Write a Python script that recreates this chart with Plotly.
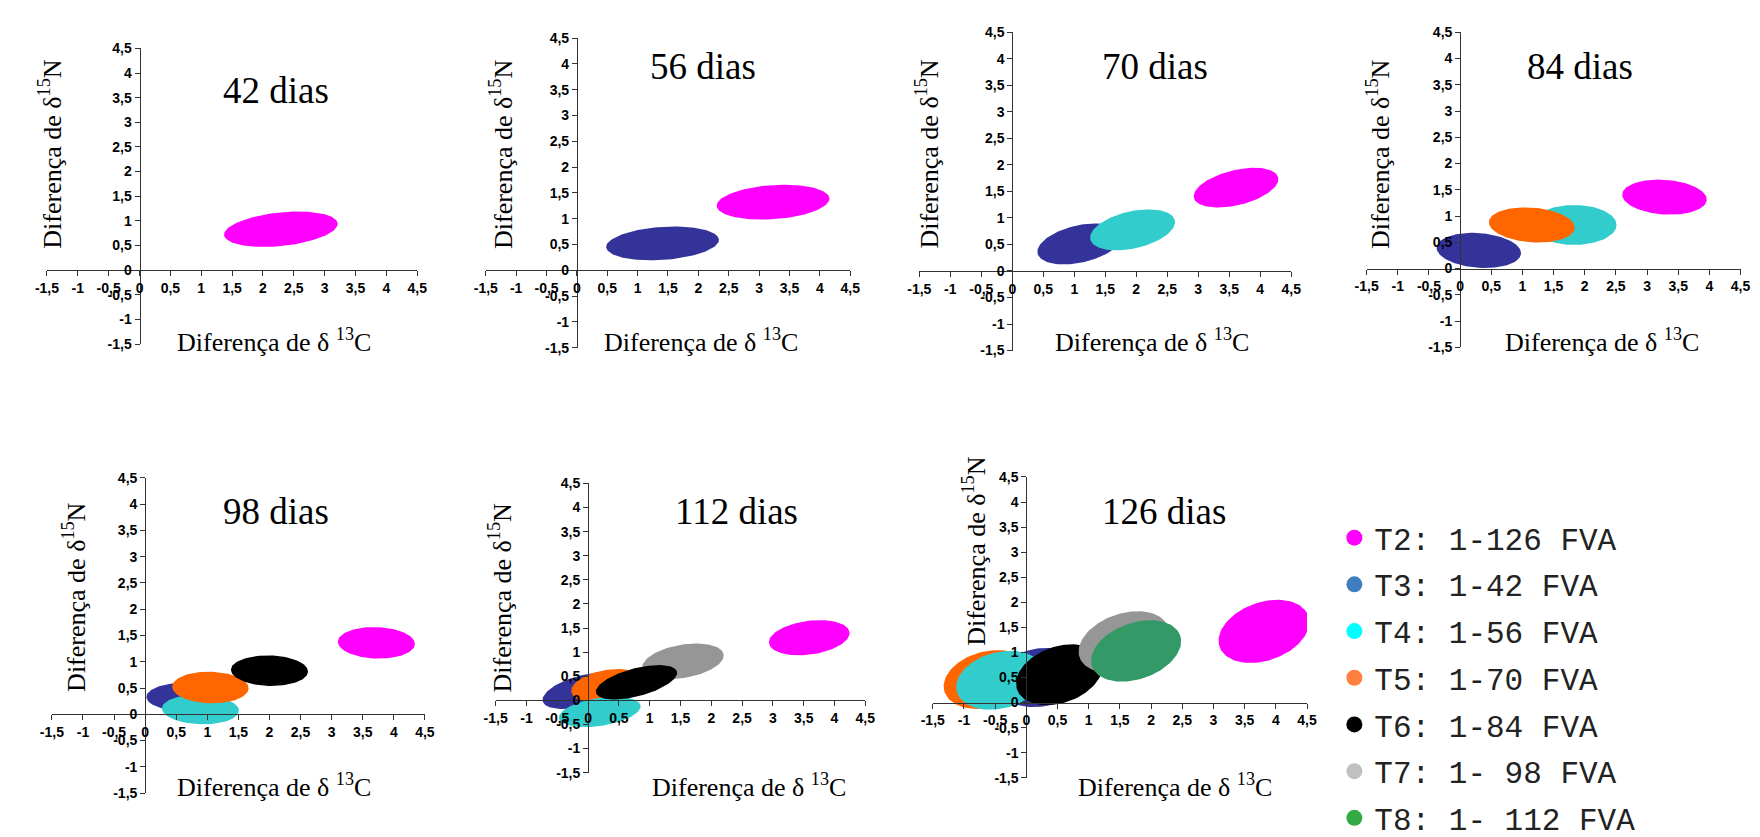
import numpy as np
import plotly.graph_objects as go

W, H = 1760, 837

# ---------------- data ----------------
days = [42, 56, 70, 84, 98, 112, 126]
treatments = ["T2", "T3", "T4", "T5", "T6", "T7", "T8"]
legend_labels = ["T2: 1-126 FVA", "T3: 1-42 FVA", "T4: 1-56 FVA", "T5: 1-70 FVA",
                 "T6: 1-84 FVA", "T7: 1- 98 FVA", "T8: 1- 112 FVA"]
fill_colors = ["#FF00FF", "#333399", "#33CCCC", "#FF6600", "#000000", "#969696", "#339966"]
legend_colors = ["#FF00FF", "#3F7FBF", "#00FFFF", "#FF7F3F", "#000000", "#C0C0C0", "#33AA44"]

tick_vals = [-1.5, -1, -0.5, 0, 0.5, 1, 1.5, 2, 2.5, 3, 3.5, 4, 4.5]
tick_text = ["-1,5", "-1", "-0,5", "0", "0,5", "1", "1,5", "2", "2,5", "3", "3,5", "4", "4,5"]

# ellipses, in drawing order: panel (days), treatment, centre (d13C, d15N),
# semi-axes (major in d13C units, minor in d15N units), tilt (deg)
ell_day = [42,
           56, 56,
           70, 70, 70,
           84, 84, 84, 84,
           98, 98, 98, 98, 98,
           112, 112, 112, 112, 112, 112,
           126, 126, 126, 126, 126, 126, 126]
ell_treat = ["T2",
             "T3", "T2",
             "T3", "T4", "T2",
             "T3", "T4", "T5", "T2",
             "T3", "T4", "T5", "T6", "T2",
             "T3", "T5", "T4", "T7", "T6", "T2",
             "T3", "T5", "T4", "T6", "T7", "T8", "T2"]
ell_cx = [2.29,
          1.41, 3.23,
          1.09, 1.94, 3.61,
          0.30, 1.83, 1.15, 3.28,
          0.64, 0.89, 1.05, 2.00, 3.72,
          -0.08, 0.31, 0.19, 1.54, 0.785, 3.59,
          0.23, -0.62, -0.42, 0.53, 1.56, 1.76, 3.81]
ell_cy = [0.83,
          0.52, 1.32,
          0.51, 0.775, 1.57,
          0.345, 0.83, 0.83, 1.36,
          0.33, 0.09, 0.51, 0.83, 1.36,
          0.20, 0.30, -0.24, 0.81, 0.375, 1.30,
          0.50, 0.46, 0.445, 0.555, 1.21, 1.03, 1.42]
ell_rx = [0.925,
          0.93, 0.93,
          0.70, 0.70, 0.70,
          0.68, 0.68, 0.69, 0.68,
          0.62, 0.62, 0.615, 0.62, 0.62,
          0.68, 0.59, 0.67, 0.67, 0.68, 0.66,
          0.72, 0.72, 0.72, 0.72, 0.75, 0.75, 0.755]
ell_ry = [0.34,
          0.32, 0.33,
          0.35, 0.35, 0.33,
          0.33, 0.38, 0.33, 0.33,
          0.27, 0.28, 0.30, 0.29, 0.30,
          0.32, 0.33, 0.29, 0.345, 0.29, 0.35,
          0.58, 0.56, 0.56, 0.56, 0.56, 0.56, 0.58]
ell_tilt = [6,
            4, 4,
            13, 13, 14,
            -4.5, 0, -4.4, -4,
            0, -2, -1.5, -1.5, -2,
            15, 10, 9, 10, 15, 8,
            10, 15, 15, 20, 20, 20, 20]

# ---------------- layout geometry (pixels: left, right, top, bottom of axes box) ----------------
panel_box = [
    (27.3, 402.3, 33.3, 337.3),
    (471.7, 840.7, 22.7, 341.0),
    (910.7, 1287.3, 16.7, 344.0),
    (1363.7, 1742.3, 16.7, 340.7),
    (32.3, 410.0, 475.0, 799.0),
    (481.7, 856.0, 480.7, 778.0),
    (924.3, 1303.3, 474.0, 783.3),
]
title_pos = [(259, 77), (692, 52), (1149, 52), (1580, 52), (259, 509), (726, 509), (1158, 509)]
xtitle_pos = [(257.5, 334), (689.5, 334), (1146, 334), (1602.5, 334), (257.5, 791), (738, 791), (1170, 791)]
ytitle_pos = [(31, 142), (487, 142), (919, 142), (1375, 142), (55, 598), (487, 598), (967, 550)]

fig = go.Figure()
t = np.linspace(0, 2 * np.pi, 120)

for i, d in enumerate(days):
    L, R, T, B = panel_box[i]
    sx = (R - L) / 6.0
    sy = (B - T) / 6.0
    ax = "" if i == 0 else str(i + 1)
    for k in range(len(ell_day)):
        if ell_day[k] != d:
            continue
        a = ell_rx[k] * sx
        b = ell_ry[k] * sy
        th = np.radians(ell_tilt[k])
        u = a * np.cos(t)
        v = b * np.sin(t)
        du = u * np.cos(th) - v * np.sin(th)
        dv = u * np.sin(th) + v * np.cos(th)
        col = fill_colors[treatments.index(ell_treat[k])]
        fig.add_trace(go.Scatter(
            x=ell_cx[k] + du / sx, y=ell_cy[k] + dv / sy,
            mode="lines", fill="toself", fillcolor=col,
            line=dict(width=0, color=col), hoverinfo="skip",
            showlegend=False, xaxis="x" + ax, yaxis="y" + ax))

# legend-only traces
for j, lab in enumerate(legend_labels):
    fig.add_trace(go.Scatter(
        x=[None], y=[None], mode="markers", name=lab, legendgroup=treatments[j],
        marker=dict(size=16, color=legend_colors[j]), xaxis="x", yaxis="y"))

tick_font = dict(family="Liberation Sans, Arial, sans-serif", size=14, color="#000", weight=700)
bold_ticks = [f"<b>{s}</b>" for s in tick_text]
serif = "Liberation Serif, Times New Roman, serif"
annotations = []
layout_axes = {}
for i, d in enumerate(days):
    L, R, T, B = panel_box[i]
    xd = [L / W, R / W]
    yd = [1 - B / H, 1 - T / H]
    ax = "" if i == 0 else str(i + 1)
    common = dict(tickmode="array", tickvals=tick_vals, ticktext=bold_ticks,
                  range=[-1.5, 4.5], showgrid=False, zeroline=False,
                  showline=True, linecolor="#333", linewidth=1,
                  ticks="outside", ticklen=5, tickcolor="#333", tickwidth=1,
                  tickfont=tick_font, fixedrange=True)
    layout_axes["xaxis" + ax] = dict(common, domain=xd, anchor="free",
                                     position=yd[0] + 0.25 * (yd[1] - yd[0]))
    layout_axes["yaxis" + ax] = dict(common, domain=yd, anchor="free",
                                     position=xd[0] + 0.25 * (xd[1] - xd[0]))
    annotations.append(dict(text=f"{d} dias", x=title_pos[i][0] / W, y=1 - title_pos[i][1] / H,
                            xref="paper", yref="paper", showarrow=False,
                            xanchor="center", yanchor="middle",
                            font=dict(family=serif, size=37, color="#000")))
    annotations.append(dict(text="Diferença de δ <sup>13</sup>C", x=xtitle_pos[i][0] / W, y=1 - xtitle_pos[i][1] / H,
                            xref="paper", yref="paper", showarrow=False,
                            xanchor="center", yanchor="middle",
                            font=dict(family=serif, size=26, color="#000")))
    annotations.append(dict(text="Diferença de δ<sup>15</sup>N", x=ytitle_pos[i][0] / W, y=1 - ytitle_pos[i][1] / H,
                            xref="paper", yref="paper", showarrow=False, textangle=-90,
                            xanchor="center", yanchor="middle",
                            font=dict(family=serif, size=26, color="#000")))

fig.update_layout(
    width=W, height=H, autosize=False,
    margin=dict(l=0, r=0, t=0, b=0),
    paper_bgcolor="white", plot_bgcolor="white",
    showlegend=True,
    legend=dict(x=1331 / W, y=1 - 509 / H, xanchor="left", yanchor="top",
                font=dict(family="Courier New, Liberation Mono, monospace", size=31, color="#222"),
                bgcolor="rgba(0,0,0,0)", traceorder="grouped", tracegroupgap=3.4,
                itemsizing="trace"),
    annotations=annotations,
    **layout_axes,
)

fig.write_html("out.html")
